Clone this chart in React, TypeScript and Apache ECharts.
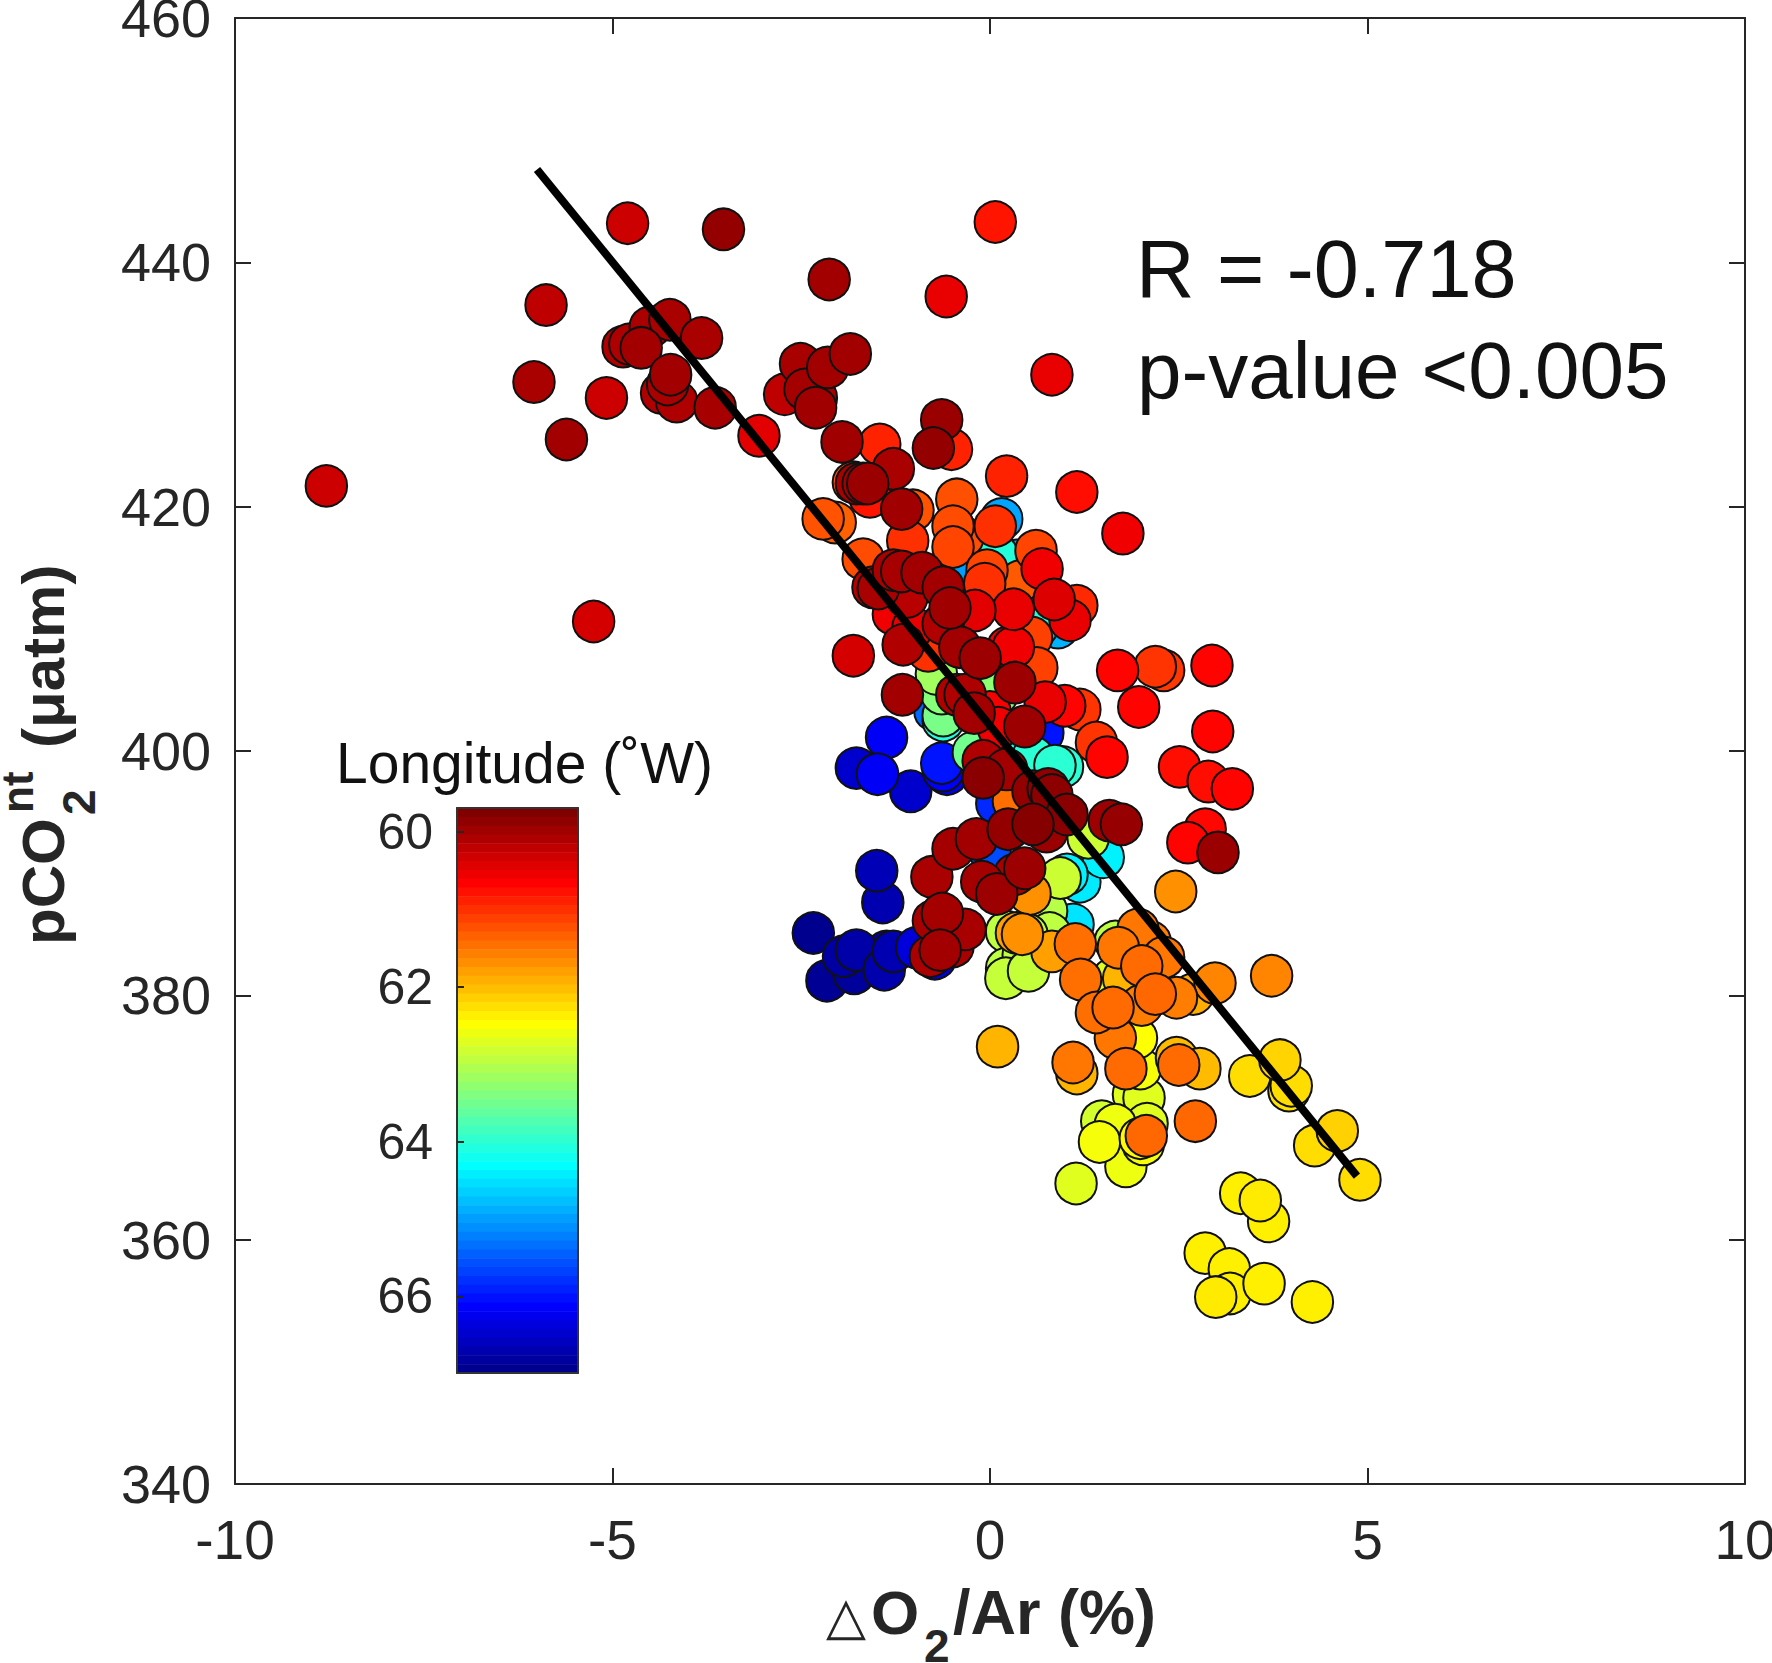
import React, { useEffect, useRef } from 'react';
import * as echarts from 'echarts';

// [deltaO2/Ar (%), pCO2nt (uatm), longitude (W)]
type Pt = [number, number, number];

const bluePoints: Pt[] = [
  [-1.37, 401.1, 66.2], [-1.77, 398.6, 66.5], [-1.49, 398.1, 66.2], [-1.05, 396.7, 66.5],
  [-0.64, 399.0, 66.0], [-0.62, 398.4, 66.2], [-0.57, 398.1, 66.25], [0.70, 401.5, 66.0],
  [0.09, 395.7, 65.85], [0.0, 391.8, 65.6], [-0.73, 403.3, 65.4],
  [-1.50, 390.2, 66.65], [-1.42, 387.6, 66.7], [-2.34, 385.1, 67.0], [-1.94, 383.2, 66.8],
  [-1.37, 383.6, 66.75], [-1.28, 383.6, 66.7], [-0.97, 383.9, 66.4], [-0.73, 383.0, 66.35],
  [-2.16, 381.2, 66.9], [-1.80, 381.8, 66.85], [-1.77, 383.7, 66.75], [-1.40, 382.1, 66.72],
];

const cyanPoints: Pt[] = [
  [0.155, 419.0, 64.95], [0.35, 415.6, 64.9], [-0.44, 414.5, 65.0], [0.90, 410.1, 64.85],
  [0.62, 410.1, 64.7], [0.09, 416.1, 64.05], [0.31, 414.6, 64.1], [0.57, 410.9, 64.05],
  [-0.62, 402.5, 64.05], [0.57, 399.5, 64.0], [0.44, 400.3, 64.05], [0.96, 398.7, 64.0],
  [0.86, 398.8, 64.0], [1.50, 391.3, 64.4], [1.02, 389.9, 64.4], [1.19, 389.3, 64.45],
  [1.10, 385.8, 64.5],
];

const greenPoints: Pt[] = [
  [-0.71, 406.3, 63.15], [-0.73, 407.6, 63.3], [-0.64, 404.7, 63.35], [-0.62, 402.9, 63.45],
  [-0.22, 399.9, 63.5], [0.09, 404.6, 63.35], [0.0, 405.5, 63.3],
  [1.30, 392.9, 62.85], [0.93, 389.6, 62.85], [0.75, 386.9, 63.0], [0.22, 385.2, 62.95],
  [0.49, 385.0, 62.9], [0.79, 385.1, 62.95], [0.22, 382.2, 62.95], [0.21, 381.4, 62.9],
  [0.51, 382.0, 62.9], [0.44, 383.3, 62.95], [1.66, 384.4, 62.95], [1.63, 381.4, 62.7],
  [1.48, 369.7, 62.8], [1.14, 364.6, 62.7],
];

const yellowPoints: Pt[] = [
  [1.94, 376.5, 62.5], [1.99, 374.0, 62.55], [1.90, 371.9, 62.7], [2.04, 371.6, 62.7],
  [1.66, 369.4, 62.6], [2.08, 369.5, 62.7], [1.45, 368.0, 62.55], [2.03, 367.8, 62.55],
  [1.80, 366.0, 62.6], [1.99, 368.3, 62.45],
  [3.44, 373.4, 62.24], [3.84, 374.7, 62.18], [3.96, 372.2, 62.28], [3.99, 372.6, 62.24],
  [4.30, 367.7, 62.24], [4.60, 368.9, 62.16], [4.90, 364.9, 62.24],
  [3.32, 363.8, 62.38], [3.58, 363.2, 62.34], [3.69, 361.5, 62.38], [2.85, 358.9, 62.38],
  [3.17, 357.6, 62.38], [2.99, 355.3, 62.34], [3.18, 355.6, 62.38], [3.63, 356.4, 62.38],
  [4.27, 354.9, 62.38],
];

const orangePoints: Pt[] = [
  [0.10, 375.8, 61.95], [1.15, 373.6, 61.95], [2.47, 374.9, 62.0], [2.78, 374.0, 62.0],
  [1.77, 381.4, 61.95], [2.69, 380.1, 61.9], [0.35, 385.1, 61.8], [0.82, 383.6, 61.8],
  [0.53, 388.3, 61.7], [0.31, 395.9, 61.45], [0.43, 385.0, 61.7], [2.46, 388.5, 61.7],
  [2.98, 381.0, 61.6], [3.73, 381.6, 61.6], [2.12, 384.4, 61.55], [2.47, 379.8, 61.55],
  [2.01, 379.2, 61.55], [1.10, 374.5, 61.5], [1.96, 385.4, 61.5], [1.70, 383.9, 61.5],
  [2.30, 383.1, 61.5], [1.66, 376.5, 61.5], [1.13, 384.2, 61.45], [1.20, 381.3, 61.45],
  [1.41, 378.6, 61.45], [1.63, 379.0, 61.42], [2.01, 382.4, 61.42], [2.19, 380.1, 61.4],
  [1.80, 374.0, 61.42], [2.50, 374.3, 61.42], [2.07, 368.5, 61.4], [2.72, 369.7, 61.4],
  [-2.05, 418.7, 61.35], [-2.21, 419.0, 61.25], [-1.81, 422.0, 61.25], [-1.68, 415.7, 61.2],
  [-1.02, 419.7, 61.25], [-0.44, 420.6, 61.22], [-0.49, 418.4, 61.2], [-0.36, 417.5, 61.22],
  [-0.49, 416.7, 61.15], [0.61, 416.4, 61.15], [-0.04, 414.8, 61.15], [0.40, 413.9, 61.3],
  [0.55, 409.3, 61.12], [0.62, 406.8, 61.12], [2.30, 406.6, 61.05], [2.19, 406.9, 61.03],
  [1.19, 403.4, 61.03], [1.41, 400.7, 61.03], [-1.09, 417.2, 61.0], [-0.07, 413.7, 61.0],
  [0.07, 418.4, 61.0], [1.15, 411.9, 60.95], [-0.82, 408.2, 61.0],
];

const redPoints: Pt[] = [
  [-1.46, 425.1, 60.9], [-0.51, 424.7, 60.9], [0.22, 422.5, 60.9], [0.07, 443.3, 60.8],
  [-1.59, 420.8, 60.8], [1.15, 421.2, 60.75], [2.51, 398.7, 60.75], [2.89, 397.5, 60.75],
  [1.69, 406.6, 60.68], [2.94, 407.0, 60.68], [1.97, 403.6, 60.68], [2.95, 401.6, 60.68],
  [0.99, 403.7, 60.68], [1.55, 399.5, 60.68], [3.21, 396.9, 60.68], [2.62, 392.5, 60.68],
  [2.85, 393.6, 60.7], [1.76, 417.8, 60.55], [0.69, 414.9, 60.55], [0.24, 408.5, 60.55],
  [0.31, 408.5, 60.55], [0.82, 430.8, 60.5], [-0.58, 437.2, 60.5], [1.06, 410.7, 60.5],
  [0.31, 411.6, 60.5], [-0.20, 411.5, 60.45], [0.85, 412.4, 60.42], [0.73, 404.0, 60.5],
  [-3.06, 425.8, 60.45], [0.11, 401.9, 60.55], [0.0, 403.2, 60.6], [-1.02, 410.1, 60.5],
  [-1.28, 411.2, 60.55],
];

const darkRedPoints: Pt[] = [
  [-8.79, 421.7, 60.3], [-5.88, 436.5, 60.2], [-6.04, 430.2, 60.05], [-5.61, 425.5, 60.0],
  [-5.08, 428.9, 60.3], [-5.25, 410.6, 60.35], [-4.80, 443.2, 60.3], [-3.53, 442.7, 59.9],
  [-2.13, 438.6, 60.0], [-1.81, 407.8, 60.35], [-2.72, 429.2, 60.2],
  [-4.86, 433.1, 60.1], [-4.77, 433.3, 60.08], [-4.50, 434.7, 60.06], [-4.62, 433.0, 60.0],
  [-4.24, 435.3, 60.05], [-3.82, 433.8, 60.05], [-4.35, 429.3, 60.1], [-4.15, 428.6, 60.08],
  [-4.27, 430.0, 60.05], [-4.23, 430.8, 60.0], [-3.64, 428.1, 60.03],
  [-2.51, 431.7, 60.04], [-2.45, 429.6, 60.02], [-2.30, 428.9, 60.04], [-2.15, 431.4, 60.0],
  [-2.31, 428.1, 59.98], [-1.85, 432.5, 60.0], [-1.96, 425.3, 59.98], [-0.64, 427.1, 59.95],
  [-0.75, 424.8, 59.9], [-1.28, 423.1, 60.05], [-1.77, 421.9, 60.05], [-1.68, 421.9, 60.02],
  [-1.62, 421.9, 59.95], [-1.17, 419.8, 59.98],
  [-1.55, 413.4, 60.15], [-1.48, 413.3, 60.05], [-1.10, 412.6, 60.15], [-1.28, 414.8, 60.05],
  [-1.17, 414.7, 60.03], [-0.90, 414.6, 60.0], [-0.62, 413.4, 60.0], [-0.53, 411.7, 59.98],
  [-0.62, 410.4, 60.1], [-1.15, 408.7, 60.1], [-0.40, 408.5, 60.0], [-0.13, 407.6, 59.96],
  [0.33, 405.6, 59.96], [-0.44, 404.6, 60.1], [-0.33, 404.6, 60.08], [-1.16, 404.6, 60.0],
  [-0.21, 403.1, 60.0], [0.46, 402.0, 59.96], [-0.09, 399.2, 60.08], [0.22, 398.5, 60.0],
  [-0.09, 397.8, 59.82], [0.57, 396.7, 59.88], [0.77, 396.9, 59.86], [0.82, 396.4, 59.84],
  [1.02, 394.8, 59.82], [1.74, 394.0, 59.92], [1.58, 394.3, 59.96], [0.57, 394.0, 59.8],
  [0.24, 393.6, 59.9], [0.75, 393.4, 59.95], [-0.18, 392.8, 60.0], [-0.49, 392.0, 60.02],
  [3.02, 391.7, 59.94], [-0.77, 389.7, 60.05], [-0.11, 389.3, 60.02], [0.09, 388.3, 59.96],
  [0.33, 389.9, 60.03], [0.46, 390.4, 59.96], [-0.33, 385.4, 60.04], [-0.75, 386.1, 60.03],
  [-0.63, 386.7, 60.02], [-0.79, 383.2, 60.06], [-0.49, 384.0, 60.05], [-0.66, 383.7, 60.0],
];

const fitLine = [[-6.0, 447.6], [4.86, 365.2]];
const xTicks = { min: -10, max: 10, interval: 5 };
const yTicks = { min: 340, max: 460, interval: 20 };
const lonRange = [59.69, 66.99];
const lonTicks = [60, 62, 64, 66];

// jet(64), from the top of the colour bar to the bottom
const jetColors = [
  '#800000', '#8F0000', '#9F0000', '#AF0000', '#BF0000', '#CF0000', '#DF0000', '#EF0000',
  '#FF0000', '#FF1000', '#FF2000', '#FF3000', '#FF4000', '#FF5000', '#FF6000', '#FF7000',
  '#FF8000', '#FF8F00', '#FF9F00', '#FFAF00', '#FFBF00', '#FFCF00', '#FFDF00', '#FFEF00',
  '#FFFF00', '#EFFF10', '#DFFF20', '#CFFF30', '#BFFF40', '#AFFF50', '#9FFF60', '#8FFF70',
  '#80FF80', '#70FF8F', '#60FF9F', '#50FFAF', '#40FFBF', '#30FFCF', '#20FFDF', '#10FFEF',
  '#00FFFF', '#00EFFF', '#00DFFF', '#00CFFF', '#00BFFF', '#00AFFF', '#009FFF', '#008FFF',
  '#0080FF', '#0070FF', '#0060FF', '#0050FF', '#0040FF', '#0030FF', '#0020FF', '#0010FF',
  '#0000FF', '#0000EF', '#0000DF', '#0000CF', '#0000BF', '#0000AF', '#00009F', '#00008F',
];

const FONT = '"Liberation Sans", Arial, sans-serif';
const INK = '#262626';

// text placed by its baseline; vertical = reads bottom to top
const label = (
  x: number,
  base: number,
  text: string,
  size: number,
  bold = false,
  vertical = false,
  family = FONT,
  fill = INK,
) => ({
  type: 'text',
  silent: true,
  x: vertical ? base - 0.35 * size : x,
  y: vertical ? x : base - 0.35 * size,
  rotation: vertical ? Math.PI / 2 : 0,
  style: {
    text,
    fontSize: size,
    fontFamily: family,
    fontWeight: bold ? 'bold' : 'normal',
    fill,
    align: 'left',
    verticalAlign: 'middle',
  },
});

const frameAxis = (gridIndex: number, position: string, range: any, color: string) => ({
  type: 'value',
  gridIndex,
  position,
  ...range,
  z: 5,
  axisLine: { show: true, onZero: false, lineStyle: { color, width: 2 } },
  axisTick: { show: false },
  axisLabel: { show: false },
  splitLine: { show: false },
});

const plotAxis = (position: string, range: any, showLabel: boolean, fontSize: number, margin: number) => {
  const axis = frameAxis(0, position, range, INK);
  axis.axisTick = { show: true, inside: true, length: 16, lineStyle: { color: INK, width: 2 } } as any;
  axis.axisLabel = {
    show: showLabel,
    fontSize,
    fontFamily: FONT,
    color: INK,
    margin,
    hideOverlap: false,
  } as any;
  return axis;
};

const App: React.FC = () => {
  const chartRef = useRef<HTMLDivElement>(null);

  useEffect(() => {
    if (!chartRef.current) return;
    const chart = echarts.init(chartRef.current, undefined, { renderer: 'svg' });

    // the survey was plotted from west to east, so the eastern points lie on top
    const points = [
      ...bluePoints, ...cyanPoints, ...greenPoints, ...yellowPoints,
      ...orangePoints, ...redPoints, ...darkRedPoints,
    ].sort((a, b) => b[2] - a[2]);

    const bandHeight = (lonRange[1] - lonRange[0]) / jetColors.length;

    chart.setOption({
      animation: false,
      backgroundColor: '#fff',
      grid: [
        { left: 235, top: 18, width: 1510, height: 1466, outerBoundsMode: 'none' },
        { left: 457, top: 808, width: 121, height: 565, outerBoundsMode: 'none' },
      ],
      xAxis: [
        plotAxis('bottom', xTicks, true, 55, 28),
        plotAxis('top', xTicks, false, 55, 28),
        frameAxis(1, 'bottom', { min: 0, max: 1 }, '#333'),
        frameAxis(1, 'top', { min: 0, max: 1 }, '#333'),
      ],
      yAxis: [
        plotAxis('left', yTicks, true, 54, 24),
        plotAxis('right', yTicks, false, 54, 24),
        {
          ...frameAxis(1, 'left', { min: lonRange[0], max: lonRange[1] }, '#333'),
          inverse: true,
          axisTick: {
            show: true,
            inside: true,
            length: 7,
            customValues: lonTicks,
            lineStyle: { color: INK, width: 2 },
          },
          axisLabel: {
            show: true,
            fontSize: 50,
            fontFamily: FONT,
            color: INK,
            margin: 24,
            padding: [7, 0, 0, 0],
            customValues: lonTicks,
          },
        },
        {
          ...frameAxis(1, 'right', { min: lonRange[0], max: lonRange[1] }, '#333'),
          inverse: true,
        },
      ],
      visualMap: {
        show: false,
        type: 'continuous',
        seriesIndex: 0,
        dimension: 2,
        min: lonRange[0] + bandHeight / 2,
        max: lonRange[1] - bandHeight / 2,
        inRange: { color: jetColors },
      },
      series: [
        {
          type: 'scatter',
          data: points,
          symbol: 'circle',
          symbolSize: 41.5,
          itemStyle: { opacity: 1, borderColor: '#111', borderWidth: 2 },
          silent: true,
          large: false,
          z: 2,
        },
        {
          type: 'line',
          data: fitLine,
          symbol: 'none',
          lineStyle: { color: '#000', width: 8 },
          silent: true,
          z: 3,
        },
        {
          type: 'custom',
          xAxisIndex: 2,
          yAxisIndex: 2,
          data: jetColors.map((_, i) => [i]),
          silent: true,
          z: 2,
          renderItem: (params: any, api: any) => {
            const i = api.value(0);
            const start = api.coord([0, lonRange[0] + i * bandHeight]);
            const end = api.coord([1, lonRange[0] + (i + 1) * bandHeight]);
            return {
              type: 'rect',
              shape: { x: start[0], y: start[1], width: end[0] - start[0], height: end[1] - start[1] + 0.5 },
              style: { fill: jetColors[i] },
            };
          },
        },
      ],
      graphic: [
        label(1136, 297, 'R = -0.718', 81, false, false, FONT, '#111'),
        label(1137, 398, 'p-value <0.005', 80, false, false, FONT, '#111'),
        label(336, 783, 'Longitude (˚W)', 57, false, false, FONT, '#111'),
        // y axis title, built up from the bottom
        label(945, 64, 'pCO', 60, true, true),
        label(813, 33, 'nt', 44, true, true),
        label(815, 95, '2', 46, true, true),
        label(748, 64, '(μatm)', 60, true, true),
        // x axis title
        label(826, 1634, '△', 52, false, false, '"DejaVu Sans", sans-serif'),
        label(871, 1634, 'O', 62, true),
        label(924, 1662, '2', 46, true),
        label(953, 1634, '/Ar (%)', 63, true),
      ],
    });

    return () => chart.dispose();
  }, []);

  return (
    <div
      ref={chartRef}
      style={{ position: 'absolute', left: 0, top: 0, width: 1772, height: 1663 }}
    />
  );
};

export default App;
